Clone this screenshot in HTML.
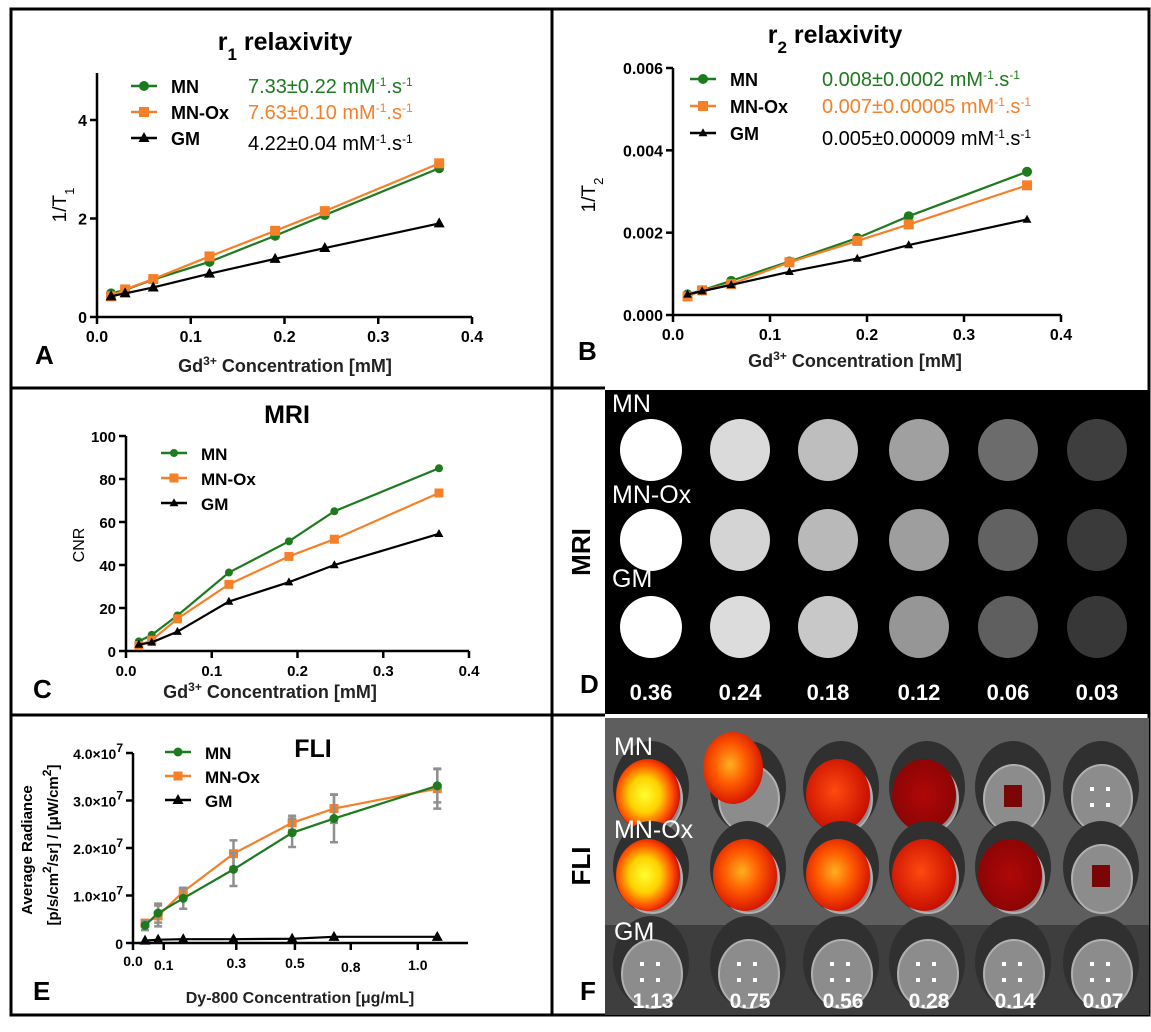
<!DOCTYPE html>
<html><head><meta charset="utf-8"><style>
html,body{margin:0;padding:0;background:#fff}
svg{display:block;font-family:"Liberation Sans",sans-serif}
.b{font-weight:bold}
</style></head><body>
<svg id="fig" width="1151" height="1032" viewBox="0 0 1151 1032" xmlns="http://www.w3.org/2000/svg">
<defs>
<radialGradient id="hotY" cx="45%" cy="50%" r="55%"><stop offset="0" stop-color="#ffff30"/><stop offset="0.45" stop-color="#ffd000"/><stop offset="0.8" stop-color="#ff4a00"/><stop offset="1" stop-color="#d01000"/></radialGradient>
<radialGradient id="hotO" cx="45%" cy="45%" r="55%"><stop offset="0" stop-color="#ffb020"/><stop offset="0.5" stop-color="#ff5a00"/><stop offset="1" stop-color="#d81800"/></radialGradient>
<radialGradient id="hotR" cx="45%" cy="45%" r="55%"><stop offset="0" stop-color="#ff4a10"/><stop offset="1" stop-color="#c81000"/></radialGradient>
<radialGradient id="hotD" cx="50%" cy="50%" r="55%"><stop offset="0" stop-color="#b00808"/><stop offset="1" stop-color="#8a0404"/></radialGradient>
</defs>
<g id="frame" stroke="#000" stroke-width="3" fill="none">
<rect x="11" y="9" width="1138" height="1006"/>
<line x1="552" y1="9" x2="552" y2="1015"/>
<line x1="11" y1="388" x2="605" y2="388"/>
<line x1="11" y1="715" x2="605" y2="715"/>
</g>
<g id="imgD"></g>
<g id="imgF"></g>
<g id="charts"></g>
<text x="35" y="364" font-size="26" class="b">A</text>
<text x="578" y="360" font-size="26" class="b">B</text>
<text x="33" y="698" font-size="26" class="b">C</text>
<text x="580" y="693" font-size="26" class="b">D</text>
<text x="33" y="1000" font-size="26" class="b">E</text>
<text x="580" y="1000" font-size="26" class="b">F</text>
<text transform="translate(590,552) rotate(-90)" text-anchor="middle" font-size="26" class="b">MRI</text>
<text transform="translate(590,866) rotate(-90)" text-anchor="middle" font-size="26" class="b">FLI</text>
</svg>
<script>
const NS='http://www.w3.org/2000/svg';
const GREEN='#1e7a1e', ORANGE='#f5802a', BLACK='#000';
const xConc=[0.015,0.03,0.06,0.12,0.19,0.243,0.365];
const aMN=[0.48,0.55,0.76,1.12,1.65,2.07,3.02];
const aOx=[0.42,0.56,0.77,1.23,1.75,2.15,3.12];
const aGM=[0.42,0.48,0.60,0.88,1.18,1.40,1.90];
const aYTicks=[0,2,4];
const bMN=[0.0005,0.0006,0.00083,0.0013,0.00187,0.0024,0.00348];
const bOx=[0.00045,0.0006,0.00075,0.00128,0.0018,0.0022,0.00315];
const bGM=[0.0005,0.00058,0.00073,0.00105,0.00137,0.0017,0.00232];
const bYTicks=[0,0.002,0.004,0.006];
const cMN=[4.5,7.5,16.5,36.5,51,65,85];
const cOx=[2.5,5,15,31,44,52,73.5];
const cGM=[3,4,9,23,32,40,54.5];
const cYTicks=[0,20,40,60,80,100];
const concXTicks=[0,0.1,0.2,0.3,0.4];
const eX=[0.043,0.09,0.18,0.36,0.57,0.72,1.09];
const eMN=[0.37,0.63,0.94,1.55,2.32,2.62,3.31];
const eOx=[0.42,0.57,1.08,1.88,2.53,2.83,3.25];
const eGM=[0.05,0.07,0.08,0.08,0.09,0.13,0.13];
const eErrMN=[0.1,0.2,0.22,0.35,0.3,0.5,0.35];
const eErrOx=[0.05,0.22,0.08,0.28,0.15,0.3,0.42];
const eYTicks=[0,1,2,3,4];
const eXTickVals=[0,0.11,0.37,0.58,0.78,1.02];
const eXTickLabels=['0.0','0.1','0.3','0.5','0.8','1.0'];
const dConc=['0.36','0.24','0.18','0.12','0.06','0.03'];
const dGrayMN=[255,218,190,160,108,62];
const dGrayOx=[255,212,185,158,98,58];
const dGrayGM=[255,220,200,150,95,55];
const fConc=['1.13','0.75','0.56','0.28','0.14','0.07'];

const root=document.getElementById('charts');
function el(tag,attrs,parent){const e=document.createElementNS(NS,tag);for(const k in attrs)e.setAttribute(k,attrs[k]);(parent||root).appendChild(e);return e;}
function txt(x,y,s,attrs,parent){const t=el('text',Object.assign({x:x,y:y},attrs||{}),parent);t.innerHTML=s;return t;}
function marker(g,type,x,y,color,sz){
  let m;
  if(type==='circle'){m=el('circle',{cx:x,cy:y,r:sz,fill:color},g);}
  else if(type==='square'){m=el('rect',{x:x-sz,y:y-sz,width:2*sz,height:2*sz,fill:color},g);}
  else{m=el('polygon',{points:`${x},${y-sz*1.2} ${x-sz*1.1},${y+sz*0.8} ${x+sz*1.1},${y+sz*0.8}`,fill:color},g);}
  
  
}
function chart(cfg){
  const g=el('g',{});
  
  
  const sx=v=>cfg.x0+(v-cfg.xmin)/(cfg.xmax-cfg.xmin)*(cfg.x1-cfg.x0);
  const sy=v=>cfg.y0-(v-cfg.ymin)/(cfg.ymax-cfg.ymin)*(cfg.y0-cfg.y1);
  const ax=el('g',{stroke:'#000','stroke-width':2.5},g);
  
  
  el('line',{x1:cfg.x0,y1:cfg.y0,x2:cfg.x1,y2:cfg.y0},ax);
  el('line',{x1:cfg.x0,y1:cfg.y0,x2:cfg.x0,y2:cfg.yTop},ax);
  cfg.xTickVals.forEach((v,i)=>{
    el('line',{x1:sx(v),y1:cfg.y0,x2:sx(v),y2:cfg.y0+7},ax);
    const t=txt(sx(v),cfg.y0+25+(cfg.xLabOff?cfg.xLabOff[i]:0),cfg.xTickLabels[i],{'text-anchor':'middle','font-size':cfg.tfs||16,'font-weight':'bold'},g);
    
    
  });
  cfg.yTicks.forEach((v,i)=>{
    el('line',{x1:cfg.x0-7,y1:sy(v),x2:cfg.x0,y2:sy(v)},ax);
    const t=txt(cfg.x0-10,sy(v)+6,cfg.yTickLabels[i],{'text-anchor':'end','font-size':cfg.tfs||16,'font-weight':'bold'},g);
    
    
  });
  cfg.series.forEach(s=>{
    const sg=el('g',{},g);
    
    
    if(s.err){s.vals.forEach((v,i)=>{
      const e=el('path',{d:`M${sx(cfg.xs[i])},${sy(v-s.err[i])}V${sy(v+s.err[i])}M${sx(cfg.xs[i])-4},${sy(v-s.err[i])}h8M${sx(cfg.xs[i])-4},${sy(v+s.err[i])}h8`,stroke:'#909090','stroke-width':2.5,fill:'none'},sg);
      
      
    });}
    const pts=s.vals.map((v,i)=>sx(cfg.xs[i])+','+sy(v)).join(' ');
    const pl=el('polyline',{points:pts,fill:'none',stroke:s.color,'stroke-width':2.2},sg);
    
    
    s.vals.forEach((v,i)=>marker(sg,s.m,sx(cfg.xs[i]),sy(v),s.color,s.ms||5));
  });
  const order=cfg.legendOrder||cfg.series.map((s,i)=>i);
  order.forEach((si,i)=>{
    const s=cfg.series[si];
    const ly=cfg.legY+i*cfg.legDy;
    const lg=el('g',{},g);
    
    
    el('line',{x1:cfg.legX,y1:ly,x2:cfg.legX+26,y2:ly,stroke:s.color,'stroke-width':2.5},lg);
    marker(lg,s.m,cfg.legX+13,ly,s.color,s.ms||5);
    txt(cfg.legX+40,ly+7,s.label,{'font-size':cfg.lfs||18,'font-weight':'bold','fill':'#000'},lg);
    if(s.rate){txt(cfg.rateX,ly+7+(s.rateOff||0),s.rate,{'font-size':20,fill:s.color},lg);}
  });
  return g;
}
const sup='<tspan baseline-shift="super" font-size="12">';
function rate(a){return a+' mM'+sup+'-1</tspan>.s'+sup+'-1</tspan>';}
chart({name:'r1-chart',x0:97,x1:472,y0:317,y1:120,yTop:73,xmin:0,xmax:0.4,ymin:0,ymax:4,xs:xConc,
  xTickVals:concXTicks,xTickLabels:['0.0','0.1','0.2','0.3','0.4'],yTicks:aYTicks,yTickLabels:['0','2','4'],
  legX:131,legY:86,legDy:26,rateX:248,
  series:[{key:'mn',label:'MN',vals:aMN,color:GREEN,m:'circle',rate:rate('7.33±0.22')},
          {key:'mn-ox',label:'MN-Ox',vals:aOx,color:ORANGE,m:'square',rate:rate('7.63±0.10')},
          {key:'gm',label:'GM',vals:aGM,color:BLACK,m:'tri',rate:rate('4.22±0.04'),rateOff:5}]});
chart({name:'r2-chart',x0:673,x1:1061,y0:315,y1:68,yTop:68,xmin:0,xmax:0.4,ymin:0,ymax:0.006,xs:xConc,
  xTickVals:concXTicks,xTickLabels:['0.0','0.1','0.2','0.3','0.4'],yTicks:bYTicks,yTickLabels:['0.000','0.002','0.004','0.006'],
  legX:690,legY:79,legDy:27,rateX:822,
  series:[{key:'mn',label:'MN',vals:bMN,color:GREEN,m:'circle',rate:rate('0.008±0.0002')},
          {key:'mn-ox',label:'MN-Ox',vals:bOx,color:ORANGE,m:'square',rate:rate('0.007±0.00005')},
          {key:'gm',label:'GM',vals:bGM,color:BLACK,m:'tri',ms:4,rate:rate('0.005±0.00009'),rateOff:5}]});
chart({name:'cnr-chart',x0:126,x1:469,y0:651,y1:436,yTop:436,xmin:0,xmax:0.4,ymin:0,ymax:100,xs:xConc,tfs:15,lfs:17,
  xTickVals:concXTicks,xTickLabels:['0.0','0.1','0.2','0.3','0.4'],yTicks:cYTicks,yTickLabels:['0','20','40','60','80','100'],
  legX:161,legY:453,legDy:25,
  series:[{key:'mn',label:'MN',vals:cMN,color:GREEN,m:'circle',ms:4},
          {key:'mn-ox',label:'MN-Ox',vals:cOx,color:ORANGE,m:'square',ms:4.5},
          {key:'gm',label:'GM',vals:cGM,color:BLACK,m:'tri',ms:4}]});
chart({name:'fli-chart',x0:133,x1:468,y0:943,y1:753,yTop:753,xmin:0,xmax:1.2,ymin:0,ymax:4,xs:eX,tfs:14,lfs:17,
  xTickVals:eXTickVals,xTickLabels:eXTickLabels,xLabOff:[-2,2,0,0,4,2],
  yTicks:eYTicks,yTickLabels:['0','1.0×10'+sup+'7</tspan>','2.0×10'+sup+'7</tspan>','3.0×10'+sup+'7</tspan>','4.0×10'+sup+'7</tspan>'],
  legX:165,legY:752,legDy:24,legendOrder:[1,0,2],
  series:[{key:'mn-ox',label:'MN-Ox',vals:eOx,err:eErrOx,color:ORANGE,m:'square',ms:4.5},
          {key:'mn',label:'MN',vals:eMN,err:eErrMN,color:GREEN,m:'circle',ms:4.5},
          {key:'gm',label:'GM',vals:eGM,color:BLACK,m:'tri',ms:5}]});
function T(x,y,s,attrs,name){const t=txt(x,y,s,attrs);return t;}
T(285,50,'r<tspan baseline-shift="sub" font-size="17">1</tspan> relaxivity',{'text-anchor':'middle','font-size':25,'font-weight':'bold'},'chart-title-r1');
T(835,43,'r<tspan baseline-shift="sub" font-size="17">2</tspan> relaxivity',{'text-anchor':'middle','font-size':25,'font-weight':'bold'},'chart-title-r2');
T(287,423,'MRI',{'text-anchor':'middle','font-size':25,'font-weight':'bold'},'chart-title-mri');
T(313,757,'FLI',{'text-anchor':'middle','font-size':25,'font-weight':'bold'},'chart-title-fli');
T(285,372,'Gd'+sup+'3+</tspan> Concentration [mM]',{'text-anchor':'middle','font-size':18,'font-weight':'bold','fill':'#222'},'x-axis-title-a');
T(855,367,'Gd'+sup+'3+</tspan> Concentration [mM]',{'text-anchor':'middle','font-size':18,'font-weight':'bold','fill':'#222'},'x-axis-title-b');
T(270,698,'Gd'+sup+'3+</tspan> Concentration [mM]',{'text-anchor':'middle','font-size':18,'font-weight':'bold','fill':'#222'},'x-axis-title-c');
T(300,1003,'Dy-800 Concentration [μg/mL]',{'text-anchor':'middle','font-size':16,'font-weight':'bold','fill':'#222'},'x-axis-title-e');
T(0,0,'1/T<tspan baseline-shift="sub" font-size="13">1</tspan>',{'text-anchor':'middle','font-size':19,transform:'translate(66,205) rotate(-90)'},'y-axis-title-a');
T(0,0,'1/T<tspan baseline-shift="sub" font-size="13">2</tspan>',{'text-anchor':'middle','font-size':19,transform:'translate(595,195) rotate(-90)'},'y-axis-title-b');
T(0,0,'CNR',{'text-anchor':'middle','font-size':16,transform:'translate(84,545) rotate(-90)'},'y-axis-title-c');
T(0,0,'Average  Radiance',{'text-anchor':'middle','font-size':15,'font-weight':'bold',transform:'translate(32,850) rotate(-90)'},'y-axis-title-e');
T(0,0,'[p/s/cm'+sup+'2</tspan>/sr] / [μW/cm'+sup+'2</tspan>]',{'text-anchor':'middle','font-size':15,'font-weight':'bold',transform:'translate(58,845) rotate(-90)'},'y-axis-title-e2');

const D=document.getElementById('imgD');
el('rect',{x:605,y:390,width:544,height:324,fill:'#000'},D);
const dCols=[651,740,828,919,1008,1097];
[[450,dGrayMN,'MN',412],[540,dGrayOx,'MN-Ox',503],[627,dGrayGM,'GM',587]].forEach(r=>{
  dCols.forEach((cx,i)=>{const g=r[1][i];
    const c=el('ellipse',{cx:cx,cy:r[0],rx:i==0?31:30,ry:31,fill:`rgb(${g},${g},${g})`},D);
    
    });
  const t=txt(612,r[3],r[2],{'font-size':25,fill:'#fff'},D);
  
  
});
dCols.forEach((cx,i)=>{const t=txt(cx,700,dConc[i],{'text-anchor':'middle','font-size':22,'font-weight':'bold',fill:'#fff'},D);
  
  });

const F=document.getElementById('imgF');
el('rect',{x:605,y:718,width:544,height:297,fill:'#5e5e5e'},F);
el('rect',{x:605,y:925,width:544,height:90,fill:'#3e3e3e'},F);
const fCols=[648,745,838,924,1010,1098];
const fRows=[795,875,970];
const blobs=[['hotY','plain','hotR','hotD','spk','dots'],['hotY','hotO','hotO','hotR','hotD','spk'],['dots','dots','dots','dots','dots','dots']];
fRows.forEach((cy,ri)=>{
  fCols.forEach((cx,ci)=>{
    const w=el('ellipse',{cx:cx+3,cy:cy-8,rx:38,ry:46,fill:'#303030'},F);
    
    
    el('ellipse',{cx:cx+4,cy:cy+4,rx:30,ry:34,fill:'#8c8c8c',stroke:'#b0b0b0','stroke-width':2},F);
    const b=blobs[ri][ci];
    if(b.startsWith('hot')){const e=el('ellipse',{cx:cx,cy:cy,rx:32,ry:36,fill:`url(#${b})`},F);
      
      }
    else if(b==='spk'){el('rect',{x:cx-6,y:cy-10,width:18,height:22,fill:'#7a0505'},F);}
    else if(b==='dots'){[[-6,-6],[10,-6],[-6,10],[10,10]].forEach(p=>el('rect',{x:cx+p[0]-2,y:cy+p[1]-2,width:4,height:4,fill:'#fff'},F));}
  });
});
el('ellipse',{cx:733,cy:768,rx:30,ry:36,fill:'url(#hotO)'},F);
[['MN',755],['MN-Ox',838],['GM',940]].forEach(r=>{const t=txt(614,r[1],r[0],{'font-size':25,fill:'#fff'},F);
  
  });
fCols.forEach((cx,i)=>{const t=txt(cx+5,1008,fConc[i],{'text-anchor':'middle','font-size':21,'font-weight':'bold',fill:'#fff'},F);
  
  });
</script>
</body></html>
